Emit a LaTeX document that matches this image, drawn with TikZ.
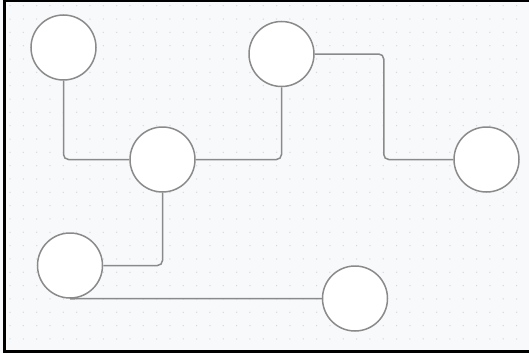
\documentclass[tikz,border=0pt]{standalone}
\usepackage{tikz}
\usetikzlibrary{positioning}
\usepackage{xcolor}
\definecolor{canvas}{RGB}{248,249,251}
\definecolor{griddot}{RGB}{214,217,223}
\definecolor{wire}{RGB}{138,138,138}

\begin{document}
\begin{tikzpicture}[x=1pt, y=-1pt,
  bubble/.style={circle, draw=wire, fill=white, line width=1.5pt, minimum size=65pt, inner sep=0pt},
  link/.style={draw=wire, line width=1.5pt, rounded corners=5pt}]
  \fill[canvas] (0,0) rectangle (529,353);
  \useasboundingbox (0,0) rectangle (529,353);
  \foreach \i in {0,...,39} {
    \foreach \j in {0,...,26} {
      \fill[griddot] (10+\i*13.33, 5.7+\j*13.33) circle (0.75pt);
    }
  }
  \draw[line width=2.5pt] (531,1.2) -- (4.5,1.2) -- (4.5,351.5) -- (531,351.5);

  \node[bubble] (topleft) at (63.5,47.5) {};
  \node[bubble] (hub) at (162.5,159.5) {};
  \node[bubble] (topmid) at (281.5,54) {};
  \node[bubble] (right) at (486.5,159.5) {};
  \node[bubble] (lowleft) at (70,265.5) {};
  \node[bubble] (bottom) at (355,298.5) {};

  \draw[link] (topleft.south) |- (hub.west);
  \draw[link] (hub.east) -| (topmid.south);
  \draw[link] (topmid.east) -- ++(69,0) |- (right.west);
  \draw[link] (hub.south) |- (lowleft.east);
  \draw[link] (lowleft.south) -- (bottom.west);
\end{tikzpicture}
\end{document}
